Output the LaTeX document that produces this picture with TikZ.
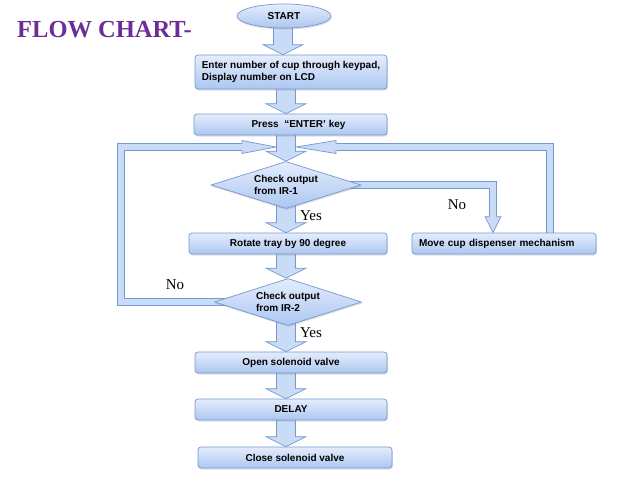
\documentclass[tikz,border=0pt]{standalone}
\usepackage{fontspec}
\setmainfont{Liberation Serif}
\newfontfamily\sansbf{Liberation Sans}
\usetikzlibrary{shapes.geometric,shadows,calc}
\pgfdeclarelayer{bg}
\pgfdeclarelayer{back}
\pgfsetlayers{back,bg,main}
\definecolor{bcol}{RGB}{118,152,208}
\definecolor{ftop}{RGB}{228,237,252}
\definecolor{fbot}{RGB}{172,199,241}
\definecolor{afill}{RGB}{200,219,247}
\definecolor{titlec}{RGB}{108,46,150}
\newcommand\boxfnt{\sansbf\bfseries\fontsize{10}{11.5}\selectfont}
\newcommand\varrow[3]{\path[blk] let \p1=(#1 |- #2.center), \p2=(#1 |- #3.north) in
  (\x1-9.5pt,\y1) -- (\x1+9.5pt,\y1) -- (\x1+9.5pt,\y2+10pt) -- (\x1+20pt,\y2+10pt) -- (\x1,\y2)
  -- (\x1-20pt,\y2+10pt) -- (\x1-9.5pt,\y2+10pt) -- cycle;}
\newcommand\bhead[4]{%
  \begin{scope}[shift={(#1)}, rotate=#2]
    \fill[afill] (-#3-1,-3.35) -- (-#3,-3.35) -- (-#3,-#4) -- (0,0) -- (-#3,#4) -- (-#3,3.35) -- (-#3-1,3.35) -- cycle;
    \draw[bcol, line width=0.7pt, line join=miter] (-#3,-3.35) -- (-#3,-#4) -- (0,0) -- (-#3,#4) -- (-#3,3.35);
  \end{scope}}
\tikzset{
  shad/.style={drop shadow={shadow xshift=0.8pt, shadow yshift=-1.5pt, opacity=0.25}},
  box/.style={rectangle, rounded corners=3pt, draw=bcol, line width=0.7pt, top color=ftop, bottom color=fbot,
    font=\boxfnt, inner sep=0pt, minimum height=21pt, shad},
  dia/.style={diamond, draw=bcol, line width=0.7pt, top color=ftop, bottom color=fbot, font=\boxfnt,
    align=left, inner sep=0pt, minimum width=150pt, minimum height=47pt, aspect=3.2, shad},
  blk/.style={draw=bcol, line width=0.7pt, fill=afill, line join=miter},
  pipe/.style={draw=bcol, line width=0.7pt, double=afill, double distance=6pt, line join=miter},
  lbl/.style={font=\fontsize{15}{17}\selectfont, inner sep=0pt},
}
\begin{document}
\begin{tikzpicture}[x=1pt,y=-1pt]
\useasboundingbox (0,0) rectangle (638,479);
\begin{pgfonlayer}{back}
\fill[white] (0,0) rectangle (638,479);
\end{pgfonlayer}
% title
\node[anchor=base west, font=\bfseries\fontsize{24.5}{28}\selectfont, text=titlec, inner sep=0pt] (title) at (17,37) {FLOW CHART-};
% nodes
\node[ellipse, draw=bcol, line width=0.7pt, top color=ftop, bottom color=fbot, font=\boxfnt, inner sep=0pt,
  minimum width=94pt, minimum height=24pt, shad] (start) at (284,16) {START};
\node[box, minimum width=192pt, minimum height=34pt, align=left] (b1) at (291,72)
  {Enter number of cup through keypad,\\Display number on LCD};
\node[box, minimum width=193pt] (b2) at (290.5,124.5) {\hspace*{16pt}Press \ “ENTER’ key};
\node[dia] (d1) at (286,185) {Check output\\from IR-1};
\node[box, minimum width=198pt] (rot) at (288,243.5) {Rotate tray by 90 degree};
\node[box, minimum width=184pt, text width=170pt, align=left] (move) at (504,243.5) {Move cup dispenser mechanism};
\node[dia, minimum width=147pt] (d2) at (288,302) {Check output\\from IR-2};
\node[box, minimum width=192pt] (open) at (291,362.5) {Open solenoid valve};
\node[box, minimum width=192pt] (delay) at (291,409.5) {DELAY};
\node[box, minimum width=194pt] (close) at (295,457.5) {Close solenoid valve};
% labels
\node[lbl] (yes1) at (311,216) {Yes};
\node[lbl] (no1) at (457,205) {No};
\node[lbl] (no2) at (175,285) {No};
\node[lbl] (yes2) at (311,333) {Yes};
% helper coordinates
\coordinate (col) at (286,0);
\coordinate (col0) at (283,0);
\coordinate (m) at (286,147);
\coordinate (lt) at (276,147);
\coordinate (rt) at (296,147);
\coordinate (lx) at (121,0);
\coordinate (rx) at (550,0);
\coordinate (nx) at (493,0);
\coordinate (mt) at (nx |- move.north);
\begin{pgfonlayer}{bg}
  % loops
  \draw[pipe] (d2.center) -- (lx |- d2.center) -- (lx |- m) -- ($(lt)+(-34,0)$);
  \bhead{lt}{0}{34}{6.5}
  \draw[pipe] (rx |- move.center) -- (rx |- m) -- ($(rt)+(40,0)$);
  \bhead{rt}{180}{40}{6.5}
  \draw[pipe] (d1.center) -- (nx |- d1.center) -- ($(mt)+(0,-16)$);
  \bhead{mt}{-90}{16}{8}
  % main block arrows
  \varrow{col0}{start}{b1}
  \varrow{col}{b1}{b2}
  \varrow{col}{b2}{d1}
  \varrow{col}{d1}{rot}
  \varrow{col}{rot}{d2}
  \varrow{col}{d2}{open}
  \varrow{col}{open}{delay}
  \varrow{col}{delay}{close}
\end{pgfonlayer}
\end{tikzpicture}
\end{document}
